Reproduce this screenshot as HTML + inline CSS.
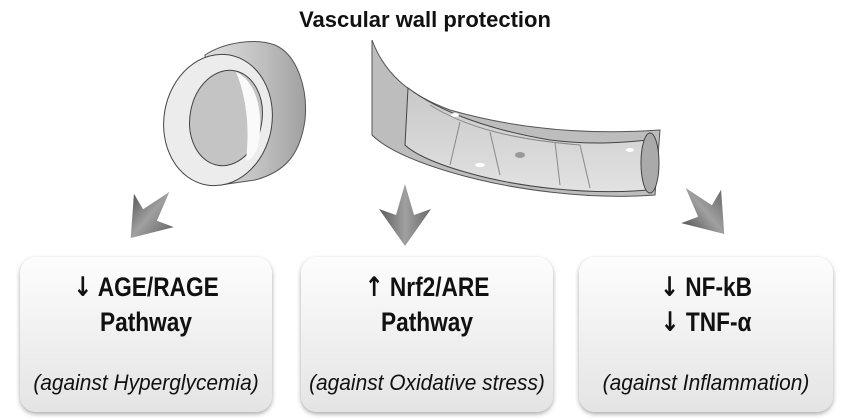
<!DOCTYPE html>
<html><head><meta charset="utf-8"><style>
body{margin:0;width:850px;height:420px;background:#fff;overflow:hidden;position:relative;font-family:"Liberation Sans",sans-serif}
.t{position:absolute;left:0;width:850px;top:7px;text-align:center;font-weight:bold;font-size:22px;color:#111}
.b{position:absolute;top:257px;height:155px;border-radius:16px;background:linear-gradient(#fdfdfd,#e4e4e4);box-shadow:0 2px 5px rgba(0,0,0,.35);text-align:center;color:#111}
.m{position:absolute;left:-20px;right:-20px;top:13px;font-weight:bold;font-size:27px;line-height:34px;transform:scaleX(.84)}
.m span{font-family:"DejaVu Sans",sans-serif;font-weight:bold}
.i{position:absolute;left:-20px;right:-20px;top:113px;font-style:italic;font-size:22px;transform:scaleX(.95);white-space:nowrap}
</style></head><body>
<svg width="850" height="260" style="position:absolute;left:0;top:0">
<defs>
<linearGradient id="a" x1="0" x2="1"><stop offset="0" stop-color="#5a5a5a"/><stop offset=".5" stop-color="#a0a0a0"/><stop offset="1" stop-color="#6a6a6a"/></linearGradient>
<linearGradient id="g" x1="0" x2="0" y1="0" y2="1"><stop offset="0" stop-color="#c8c8c8"/><stop offset="1" stop-color="#e2e2e2"/></linearGradient>
<linearGradient id="r" x1="0" x2="1"><stop offset="0" stop-color="#e0e0e0"/><stop offset=".6" stop-color="#bdbdbd"/><stop offset="1" stop-color="#a0a0a0"/></linearGradient>
</defs>
<!-- ring -->
<path d="M205 55 C225 42 255 38 275 45 C298 55 308 90 305 120 C300 155 285 172 255 180 L220 185 Z" fill="url(#r)" stroke="#555"/>
<ellipse cx="218" cy="120" rx="54" ry="66" fill="#ececec" stroke="#444" transform="rotate(10 218 120)"/>
<ellipse cx="226" cy="118" rx="36" ry="48" fill="#c4c4c4" stroke="#444" transform="rotate(10 226 118)"/>
<path d="M236 72 C258 82 264 116 258 146 C254 158 248 162 246 160 C250 126 246 96 236 72Z" fill="#fafafa"/>
<!-- tube -->
<path d="M372 40 C385 75 410 95 450 110 C520 130 590 135 660 130 L655 195 C590 200 510 190 450 172 C410 160 385 148 372 135 Z" fill="#bdbdbd" stroke="#555"/>
<path d="M408 88 C440 112 490 130 550 140 C590 145 620 143 648 140 L648 190 C590 195 520 188 465 172 C430 162 412 152 405 145 Z" fill="url(#g)" stroke="#444"/>
<path d="M430 105 C470 130 520 140 580 145 L590 188 M490 132 L500 175 M555 142 L560 185 M460 122 L450 165" fill="none" stroke="#888"/>
<ellipse cx="455" cy="115" rx="4" ry="2" fill="#fff"/><ellipse cx="520" cy="155" rx="5" ry="3" fill="#999"/><ellipse cx="480" cy="165" rx="5" ry="2" fill="#fff"/><ellipse cx="630" cy="150" rx="4" ry="2" fill="#fff"/>
<ellipse cx="650" cy="163" rx="9" ry="30" fill="#aaa" stroke="#444"/>
<!-- arrows -->
<g transform="translate(150,215) rotate(40)"><polygon points="0,-30 -9,0 -26,-6 0,30 26,-6 9,0" fill="url(#a)"/></g>
<g transform="translate(405,215)"><polygon points="0,-31 -9,0 -26,-6 0,31 26,-6 9,0" fill="url(#a)"/></g>
<g transform="translate(705,211) rotate(-40)"><polygon points="0,-30 -9,0 -26,-6 0,30 26,-6 9,0" fill="url(#a)"/></g>
</svg>
<div class="t">Vascular wall protection</div>
<div class="b" style="left:20px;width:252px"><div class="m"><span>↓</span> AGE/RAGE<br>Pathway</div><div class="i">(against Hyperglycemia)</div></div>
<div class="b" style="left:301px;width:252px"><div class="m"><span>↑</span> Nrf2/ARE<br>Pathway</div><div class="i">(against Oxidative stress)</div></div>
<div class="b" style="left:579px;width:254px"><div class="m"><span>↓</span> NF-kB<br><span>↓</span> TNF-α</div><div class="i">(against Inflammation)</div></div>
</body></html>
